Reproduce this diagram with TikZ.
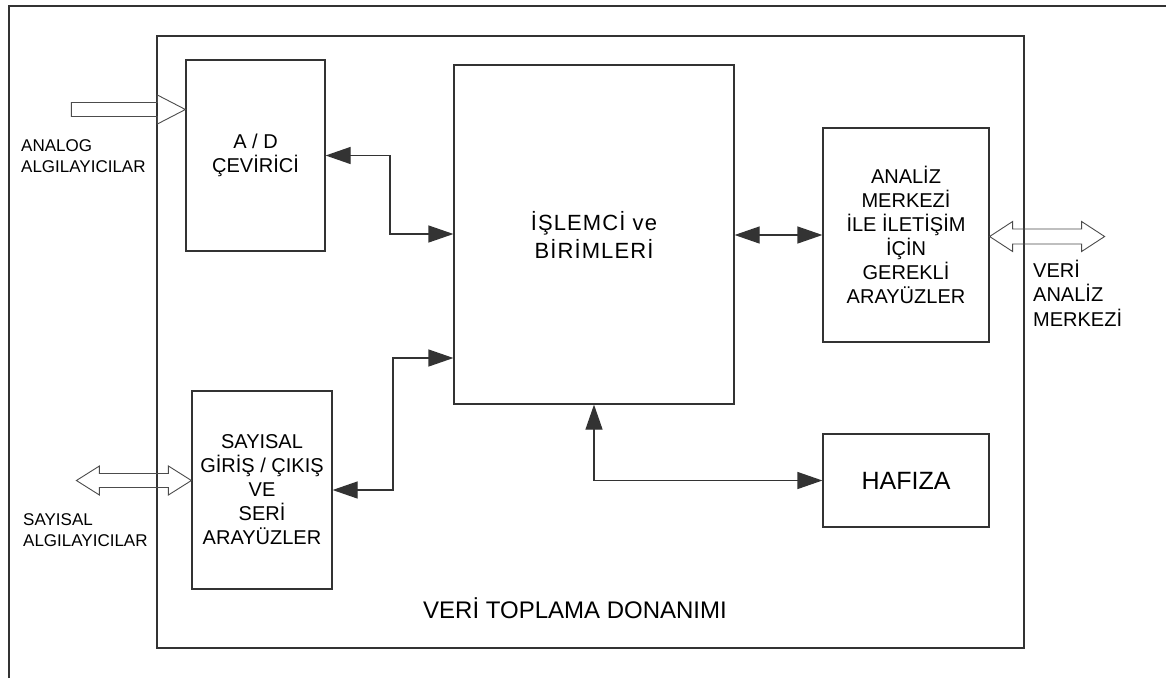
\documentclass[tikz,border=0pt]{standalone}
\usepackage{fontspec}
\setmainfont{Liberation Sans}
\newfontfamily\spacedfont[LetterSpace=5]{Liberation Sans}
\usetikzlibrary{arrows.meta}
\begin{document}
\begin{tikzpicture}[x=1pt,y=-1pt,
  ln/.style={draw=black!80, line width=1.2pt},
  box/.style={ln, rectangle, inner sep=0pt, align=center, font=\fontsize{20}{24}\selectfont},
  conn/.style={ln, {Triangle[length=25pt,width=17pt]}-{Triangle[length=25pt,width=17pt]}},
  hollow/.style={draw=black!70, line width=0.9pt, line join=miter},
  lbl/.style={inner sep=0pt, align=left, anchor=west}]
\useasboundingbox (0,0) rectangle (1166,678);
\fill[white] (0,0) rectangle (1166,678);
% outer frame
\draw[ln] (9,678) -- (9,6) -- (1166,6);
% boxes
\node[box, minimum width=867pt, minimum height=612pt] (inner) at (590.5,342) {};
\node[box, minimum width=139pt, minimum height=191pt] (ad) at (255.5,155.5) {A / D\\ÇEVİRİCİ};
\node[box, minimum width=280pt, minimum height=339pt, font=\spacedfont\fontsize{22}{28}\selectfont] (proc) at (594,234.5) {İŞLEMCİ ve\\BİRİMLERİ};
\node[box, minimum width=166pt, minimum height=214pt] (an) at (906,235) {ANALİZ\\MERKEZİ\\İLE İLETİŞİM\\İÇİN\\GEREKLİ\\ARAYÜZLER};
\node[box, minimum width=166pt, minimum height=93pt, font=\fontsize{25}{30}\selectfont] (hf) at (906,480.5) {HAFIZA};
\node[box, minimum width=140pt, minimum height=198pt] (sy) at (262,490) {SAYISAL\\GİRİŞ / ÇIKIŞ\\VE\\SERİ\\ARAYÜZLER};
\node[inner sep=0pt, font=\fontsize{24}{28}\selectfont] (title) at (575,608) {VERİ TOPLAMA DONANIMI};
% labels
\node[lbl, font=\fontsize{17}{21}\selectfont] (analbl) at (21,156) {ANALOG\\ALGILAYICILAR};
\node[lbl, font=\fontsize{17}{21}\selectfont] (sylbl) at (23,530) {SAYISAL\\ALGILAYICILAR};
\node[lbl, font=\fontsize{20}{24.5}\selectfont] (verlbl) at (1033,293) {VERİ\\ANALİZ\\MERKEZİ};
% connectors
\coordinate (j1) at (390,234);
\draw[conn] (ad.east) -| (j1) -- (proc.west |- j1);
\coordinate (j2) at (393,358);
\draw[conn] (sy.east) -| (j2) -- (proc.west |- j2);
\draw[conn] (proc.east |- an.west) -- (an.west);
\draw[conn] (proc.south) |- (hf.west);
% hollow arrows
\coordinate (anaY) at (0,109.5);
\draw[hollow] (ad.west |- anaY) -- ++(-28,-14.5) -- ++(0,7.5) -- ++(-86,0) -- ++(0,14) -- ++(86,0) -- ++(0,7.5) -- cycle;
\coordinate (syY) at (0,480.5);
\draw[hollow] (sy.west |- syY) -- ++(-23,-14.5) -- ++(0,7.5) -- ++(-69,0) -- ++(0,-7.5) -- ++(-23,14.5) -- ++(23,14.5) -- ++(0,-7.5) -- ++(69,0) -- ++(0,7.5) -- cycle;
\coordinate (anY) at (0,236.5);
\draw[hollow] (an.east |- anY) -- ++(23,-15) -- ++(0,7.5) -- ++(69,0) -- ++(0,-7.5) -- ++(23,15) -- ++(-23,15) -- ++(0,-7.5) -- ++(-69,0) -- ++(0,7.5) -- cycle;
\end{tikzpicture}
\end{document}
